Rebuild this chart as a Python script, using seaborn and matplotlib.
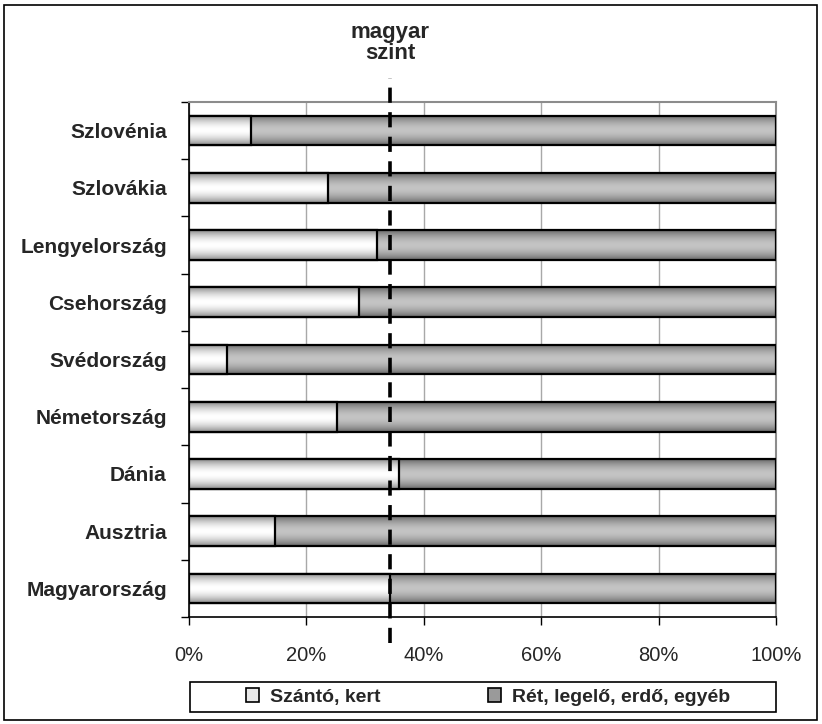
import matplotlib
matplotlib.use("Agg")
import matplotlib.pyplot as plt
import numpy as np
import pandas as pd
import seaborn as sns
from matplotlib.colors import LinearSegmentedColormap
from matplotlib.patches import Patch, Rectangle

# Adatok
orszagok = ['Szlovénia', 'Szlovákia', 'Lengyelország', 'Csehország', 'Svédország',
            'Németország', 'Dánia', 'Ausztria', 'Magyarország']
szanto = [10.5, 23.6, 32.0, 28.9, 6.5, 25.2, 35.7, 14.6, 34.3]
osszes = [100] * len(orszagok)
magyar_szint = 34.3
sorozatok = ['Szántó, kert', 'Rét, legelő, erdő, egyéb']

sns.set_style('white')
plt.rcParams['font.family'] = ['Liberation Sans', 'DejaVu Sans']

df = pd.DataFrame({'orszag': orszagok, 'szanto': szanto, 'osszes': osszes})

fig = plt.figure(figsize=(8.22, 7.24), dpi=100)
ax = fig.add_axes([189 / 822, 1 - 617 / 724, (776 - 189) / 822, (617 - 102) / 724])

sns.barplot(data=df, x='osszes', y='orszag', color='#a0a0a0', edgecolor='black',
            linewidth=1.6, width=0.52, ax=ax)
sns.barplot(data=df, x='szanto', y='orszag', color='#f0f0f0', edgecolor='black',
            linewidth=1.6, width=0.52, ax=ax)

# Színátmenetes kitöltés a sávokra (szélén sötétebb, közepén világos)
cm_rest = LinearSegmentedColormap.from_list('rest', ['#6a6a6a', '#c4c4c4'])
cm_szanto = LinearSegmentedColormap.from_list('szanto', ['#8c8c8c', '#ffffff'])
t = np.linspace(-1, 1, 64)
grad = (1 - np.abs(t) ** 1.8).reshape(-1, 1)

n = len(orszagok)
bars = list(ax.patches)
for i, p in enumerate(bars):
    cmap = cm_rest if i < n else cm_szanto
    z = 3 if i < n else 5
    x0, y0 = p.get_x(), p.get_y()
    w, h = p.get_width(), p.get_height()
    im = ax.imshow(grad, cmap=cmap, extent=[x0, x0 + w, y0 + h, y0], aspect='auto',
                   zorder=z - 0.5, vmin=0, vmax=1, interpolation='bilinear')
    im.set_clip_path(p)
    p.set_facecolor('none')
    p.set_zorder(z)

ax.set_xlim(0, 100)
ax.set_ylim(n - 0.5, -0.5)

# Magyar szint szaggatott vonal
ax.axvline(magyar_szint, ymin=-0.05, ymax=1.047, color='black', lw=2.6,
           dashes=(4.2, 2.6), clip_on=False, zorder=8)
ax.text(magyar_szint, 1.074, 'magyar\nszint', transform=ax.get_xaxis_transform(),
        ha='center', va='bottom', fontsize=16, fontweight='bold', linespacing=1.0)

# Tengelyek
ax.set_xticks(range(0, 101, 20))
ax.set_xticklabels([f'{v}%' for v in range(0, 101, 20)], fontsize=14.5)
ax.set_yticks(range(n))
ax.set_yticklabels(orszagok, fontsize=15, fontweight='bold')
ax.set_yticks(np.arange(-0.5, n), minor=True)
ax.tick_params(axis='y', which='major', length=0, pad=16)
ax.tick_params(axis='y', which='minor', length=6, width=1, color='black', left=True)
ax.tick_params(axis='x', length=6, width=1, color='black', bottom=True, pad=15)
ax.set_xlabel('')
ax.set_ylabel('')

ax.xaxis.grid(True, color='#a8a8a8', lw=1)
ax.set_axisbelow(True)
for s in ['top', 'right']:
    ax.spines[s].set_color('#8c8c8c')
    ax.spines[s].set_linewidth(1.5)
for s in ['left', 'bottom']:
    ax.spines[s].set_color('black')
    ax.spines[s].set_linewidth(1.2)

# Jelmagyarázat
handles = [Patch(facecolor='#e8e8e8', edgecolor='black', lw=1.2),
           Patch(facecolor='#9a9a9a', edgecolor='black', lw=1.2)]
leg = fig.legend(handles, sorozatok, ncol=2, loc='center',
                 bbox_to_anchor=(488 / 822, 1 - 697 / 724), frameon=False,
                 handlelength=0.67, handleheight=0.67, handletextpad=0.6,
                 columnspacing=5.5, borderaxespad=0, prop={'size': 14, 'weight': 'bold'})
fig.patches.append(Rectangle((190 / 822, 1 - 712 / 724), 586 / 822, 30 / 724,
                             transform=fig.transFigure, fill=False, edgecolor='black', lw=1.2))

# Külső keret
fig.patches.append(Rectangle((4 / 822, 4 / 724), 813 / 822, 715 / 724, transform=fig.transFigure,
                             fill=False, edgecolor='black', lw=1.2))

fig.savefig('out.png', dpi=100)
